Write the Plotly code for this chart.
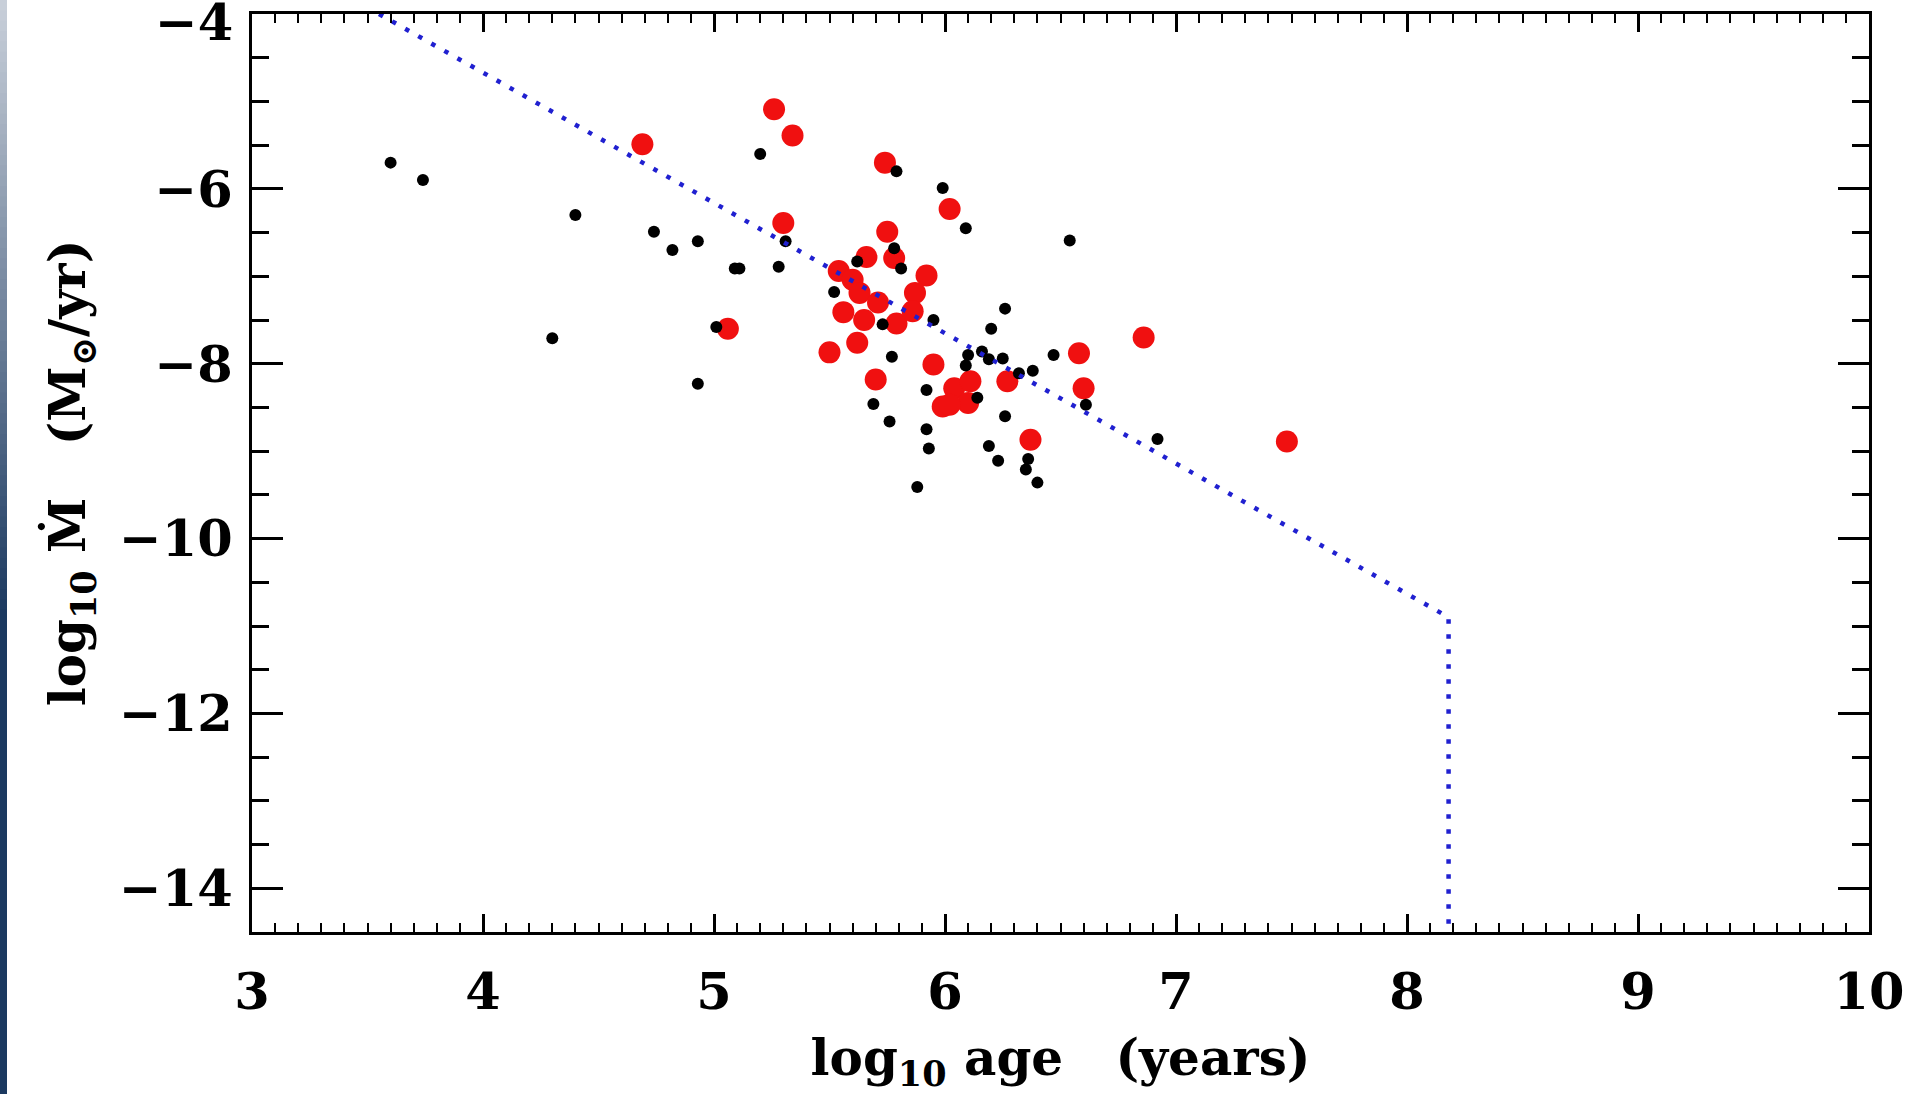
import plotly.graph_objects as go

# ---- data ----
red_x = [4.69, 5.26, 5.34, 5.30, 5.06, 5.74, 6.02, 5.75, 5.66, 5.78, 5.92, 5.54,
         5.60, 5.87, 5.63, 5.71, 5.56, 5.65, 5.79, 5.86, 5.62, 5.50, 5.95, 5.70,
         6.27, 5.99, 6.04, 6.11, 6.10, 6.02, 6.37, 6.86, 6.58, 6.60, 7.48]
red_y = [-5.49, -5.09, -5.39, -6.39, -7.60, -5.70, -6.23, -6.49, -6.78, -6.79, -6.99, -6.94,
         -7.04, -7.19, -7.19, -7.30, -7.41, -7.50, -7.54, -7.40, -7.76, -7.87, -8.01, -8.18,
         -8.20, -8.49, -8.28, -8.20, -8.45, -8.47, -8.87, -7.70, -7.88, -8.28, -8.89]

black_x = [3.60, 3.74, 4.40, 4.30, 4.74, 4.82, 4.93, 5.09, 5.11, 5.28, 5.31, 5.20,
           4.93, 5.01, 5.79, 5.99, 6.09, 5.62, 5.81, 5.78, 5.52, 5.73, 5.95, 6.26,
           6.20, 5.77, 6.10, 6.16, 6.19, 6.25, 6.09, 6.32, 6.38, 6.47, 5.92, 6.14,
           6.61, 6.26, 5.92, 5.93, 6.19, 6.23, 6.36, 6.35, 6.40, 5.88, 6.92, 5.69,
           5.76, 6.54]
black_y = [-5.70, -5.90, -6.30, -7.71, -6.49, -6.70, -6.60, -6.91, -6.91, -6.89, -6.60, -5.60,
           -8.23, -7.58, -5.80, -5.99, -6.45, -6.83, -6.91, -6.68, -7.18, -7.55, -7.50, -7.37,
           -7.60, -7.92, -7.90, -7.86, -7.95, -7.94, -8.02, -8.11, -8.08, -7.90, -8.30, -8.39,
           -8.47, -8.60, -8.75, -8.97, -8.94, -9.11, -9.09, -9.21, -9.36, -9.41, -8.86, -8.46,
           -8.66, -6.59]

limit_x = [3.55, 8.18, 8.18]
limit_y = [-4.0, -10.9, -14.5]

x_ticks = [3, 4, 5, 6, 7, 8, 9, 10]
y_ticks = [-14, -12, -10, -8, -6, -4]

W, H = 1907, 1094
ML, MR, MT, MB = 252, 38, 14, 162
PW, PH = W - ML - MR, H - MT - MB

FONT = "DejaVu Serif"

fig = go.Figure()
fig.add_trace(go.Scatter(x=red_x, y=red_y, mode="markers",
                         marker=dict(color="#f01010", size=22, line=dict(width=0)),
                         hoverinfo="skip", showlegend=False))
fig.add_trace(go.Scatter(x=black_x, y=black_y, mode="markers",
                         marker=dict(color="black", size=12, line=dict(width=0)),
                         hoverinfo="skip", showlegend=False))
fig.add_trace(go.Scatter(x=limit_x, y=limit_y, mode="lines",
                         line=dict(color="#2020d0", width=4.5, dash="4.5px,10.5px"),
                         hoverinfo="skip", showlegend=False))

tickfont = dict(family=FONT, size=51, color="black", weight="bold")
titlefont = dict(family=FONT, size=50, color="black", weight="bold")

fig.update_xaxes(range=[3, 10], tickvals=x_ticks, ticktext=[str(v) for v in x_ticks],
                 ticks="inside", ticklen=18, tickwidth=2.5, tickcolor="black",
                 minor=dict(dtick=0.1, tick0=3, ticks="inside", ticklen=9, tickwidth=2, tickcolor="black"),
                 showline=True, linewidth=3, linecolor="black", mirror="allticks",
                 showgrid=False, zeroline=False, tickfont=tickfont, ticklabelstandoff=13,
                 ticklabeloverflow="allow", automargin=False,
                 title=dict(text="log<sub>10</sub> age   (years)", font=titlefont, standoff=39))

y_labels = ["\u2212" + str(abs(v)) for v in y_ticks]
fig.update_yaxes(range=[-14.5, -4], tickvals=y_ticks[:-1], ticktext=y_labels[:-1],
                 ticks="inside", ticklen=31, tickwidth=2.5, tickcolor="black",
                 minor=dict(dtick=0.5, tick0=-4, ticks="inside", ticklen=17, tickwidth=2.5, tickcolor="black"),
                 showline=True, linewidth=3, linecolor="black", mirror="allticks",
                 showgrid=False, zeroline=False, tickfont=tickfont, ticklabelstandoff=6,
                 ticklabeloverflow="allow", automargin=False,
                 title=dict(text="log<sub>10</sub> Ṁ   (M<sub>⊙</sub>/yr)", font=titlefont, standoff=18))

# top tick label sits on the frame edge: placed as an annotation, nudged to stay on the page
annotations = [dict(text=y_labels[-1], xref="paper", yref="y", x=(234 - ML) / PW, y=y_ticks[-1],
                    xanchor="right", yanchor="middle", yshift=-8, showarrow=False,
                    borderpad=0, font=tickfont)]

# decorative gradient strip at the left edge of the slide
shapes = []
top_c = (200, 207, 217)
bot_c = (27, 57, 96)
n = 60
grad_end = 620
for i in range(n):
    t = i / (n - 1)
    c = tuple(int(round(top_c[k] + (bot_c[k] - top_c[k]) * t)) for k in range(3))
    y0p = grad_end * i / n
    y1p = grad_end * (i + 1) / n + 1.5
    shapes.append(dict(type="rect", xref="paper", yref="paper", layer="above",
                       x0=(0 - ML) / PW, x1=(7 - ML) / PW,
                       y0=1 - (y1p - MT) / PH, y1=1 - (y0p - MT) / PH,
                       fillcolor="rgb(%d,%d,%d)" % c, line=dict(width=0)))
shapes.append(dict(type="rect", xref="paper", yref="paper", layer="above",
                   x0=(0 - ML) / PW, x1=(7 - ML) / PW,
                   y0=1 - (H - MT) / PH, y1=1 - (grad_end - MT) / PH,
                   fillcolor="rgb(%d,%d,%d)" % bot_c, line=dict(width=0)))

fig.update_layout(width=W, height=H, margin=dict(l=ML, r=MR, t=MT, b=MB),
                  paper_bgcolor="white", plot_bgcolor="white", shapes=shapes,
                  annotations=annotations, showlegend=False)

fig.write_html("out.html", config={"displayModeBar": False},
               post_script="document.body.style.margin='0';document.body.style.overflow='hidden';")
